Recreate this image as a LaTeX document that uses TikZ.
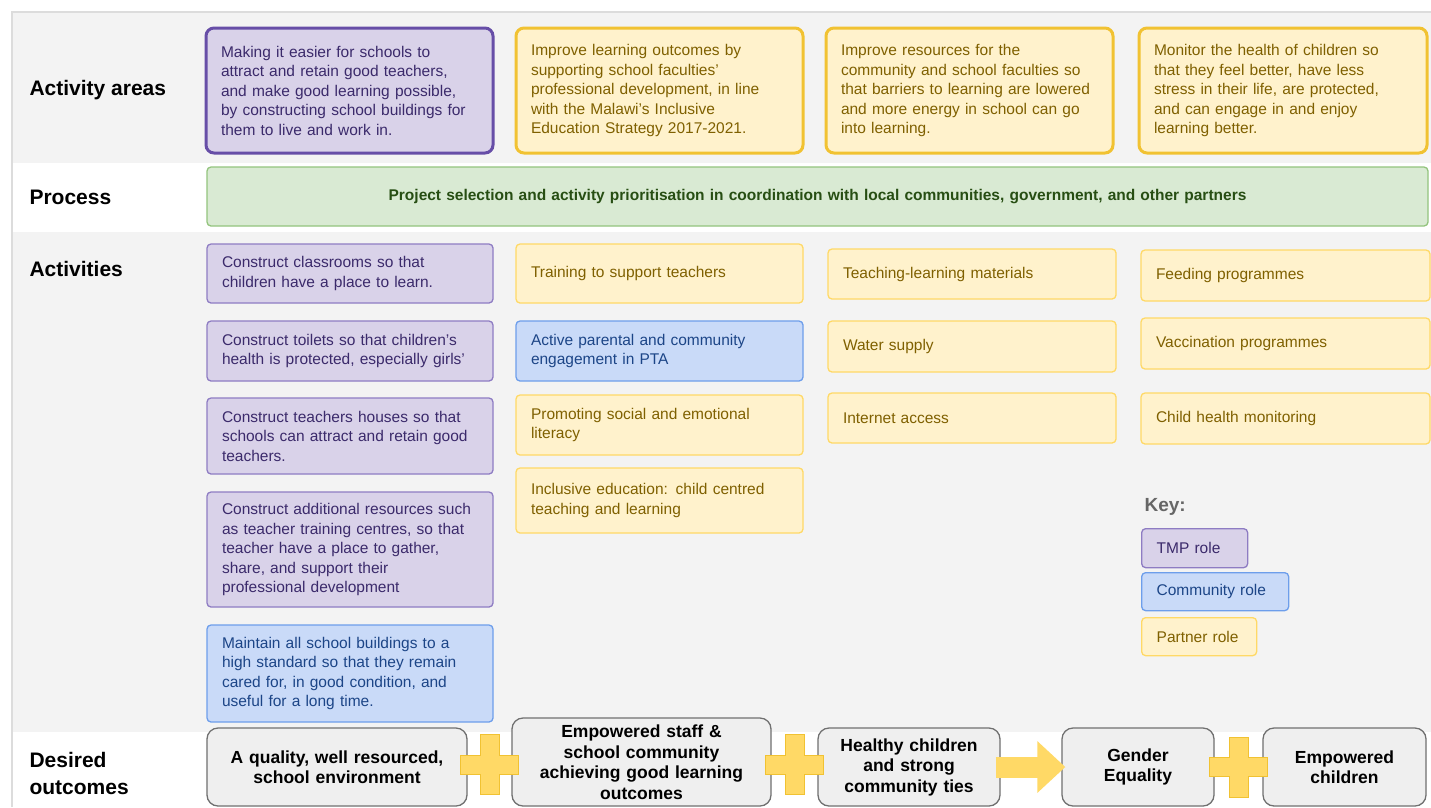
\documentclass[tikz,border=0pt]{standalone}
\usepackage{fontspec}
\setmainfont{Liberation Sans}
\usepackage{tikz}
\usetikzlibrary{calc,arrows.meta}
\usepackage{xcolor}
\definecolor{panelGray}{HTML}{F3F3F3}
\definecolor{frameGray}{HTML}{DCDCDC}
\definecolor{tmpFill}{HTML}{D9D2E9}
\definecolor{tmpLine}{HTML}{8E7CC3}
\definecolor{tmpDark}{HTML}{674EA7}
\definecolor{tmpText}{HTML}{3B2A6B}
\definecolor{comFill}{HTML}{C9DAF8}
\definecolor{comLine}{HTML}{6D9EEB}
\definecolor{comText}{HTML}{1C4587}
\definecolor{partFill}{HTML}{FFF2CC}
\definecolor{partLine}{HTML}{FFD966}
\definecolor{partDark}{HTML}{F1C232}
\definecolor{partText}{HTML}{7F6000}
\definecolor{procFill}{HTML}{D9EAD3}
\definecolor{procLine}{HTML}{93C47D}
\definecolor{procText}{HTML}{274E13}
\definecolor{outFill}{HTML}{EFEFEF}
\definecolor{outLine}{HTML}{707070}
\definecolor{plusFill}{HTML}{FFD966}
\definecolor{plusLine}{HTML}{F1C232}

\tikzset{
  cellbox/.style={rounded corners=4pt, inner xsep=15pt, inner ysep=0pt, align=left,
    line width=1.3pt, font=\fontsize{15.5}{19.5}\selectfont},
  tmpbox/.style={cellbox, fill=tmpFill, draw=tmpLine, text=tmpText},
  combox/.style={cellbox, fill=comFill, draw=comLine, text=comText},
  partbox/.style={cellbox, fill=partFill, draw=partLine, text=partText},
  areabox/.style={line width=3pt, rounded corners=8pt},
  sz/.style 2 args={text width=#1, minimum height=#2},
  rowlabel/.style={anchor=west, align=left, font=\fontsize{21}{27}\selectfont\bfseries},
  outbox/.style={rounded corners=11pt, fill=outFill, draw=outLine, line width=1.3pt,
    inner xsep=10pt, inner ysep=0pt, align=center, font=\fontsize{17.5}{20.5}\selectfont\bfseries},
  bigarrow/.style={draw=plusFill, line width=21pt, -{Triangle[length=28pt,width=50pt]}},
  plussign/.pic={
    \filldraw[fill=plusFill, draw=plusLine, line width=1pt]
      (-9.5,-30) -- (9.5,-30) -- (9.5,-9.5) -- (29,-9.5) -- (29,9.5) -- (9.5,9.5)
      -- (9.5,30) -- (-9.5,30) -- (-9.5,9.5) -- (-29,9.5) -- (-29,-9.5) -- (-9.5,-9.5) -- cycle;
  }
}

\begin{document}
\begin{tikzpicture}[x=1pt,y=-1pt]
    \useasboundingbox (0,0) rectangle (1431,807);
    \fill[white] (0,0) rectangle (1431,807);
    \fill[panelGray] (12,12) rectangle (1431,163);
    \fill[panelGray] (12,232) rectangle (1431,732);
    \draw[frameGray, line width=1.5pt] (12,807) -- (12,12) -- (1431,12);

    \node[rowlabel] (lblAreas) at (26,90) {Activity areas};
    \node[rowlabel] (lblProcess) at (26,197) {Process};
    \node[rowlabel] (lblActs) at (26,269) {Activities};
    \node[rowlabel] (lblOutcomes) at (26,773) {Desired\\outcomes};

    \node[tmpbox, areabox, draw=tmpDark, sz={257pt}{125pt}] (area1) at (349.5,90.5)
        {Making it easier for schools to\\attract and retain good teachers,\\and make good learning possible,\\by constructing school buildings for\\them to live and work in.};
    \node[partbox, areabox, draw=partDark, sz={257pt}{125pt}] (area2) at (659.5,90.5)
        {Improve learning outcomes by\\supporting school faculties'\\professional development, in line\\with the Malawi's Inclusive\\Education Strategy 2017-2021.};
    \node[partbox, areabox, draw=partDark, sz={257pt}{125pt}] (area3) at (969.5,90.5)
        {Improve resources for the\\community and school faculties so\\that barriers to learning are lowered\\and more energy in school can go\\into learning.};
    \node[partbox, areabox, draw=partDark, sz={258pt}{125pt}] (area4) at (1283,90.5)
        {Monitor the health of children so\\that they feel better, have less\\stress in their life, are protected,\\and can engage in and enjoy\\learning better.};

    \node[cellbox, fill=procFill, draw=procLine, text=procText, align=center, sz={1191pt}{59pt},
        font=\fontsize{15.5}{19}\selectfont\bfseries] (process) at (817.5,196.5)
        {Project selection and activity prioritisation in coordination with local communities, government, and other partners};

    \node[tmpbox, sz={256pt}{59pt}] (build1) at (350,273.5) {Construct classrooms so that\\children have a place to learn.};
    \node[tmpbox, sz={256pt}{60pt}] (build2) at (350,351) {Construct toilets so that children's\\health is protected, especially girls'};
    \node[tmpbox, sz={256pt}{76pt}] (build3) at (350,436) {Construct teachers houses so that\\schools can attract and retain good\\teachers.};
    \node[tmpbox, sz={256pt}{115pt}] (build4) at (350,549.5) {Construct additional resources such\\as teacher training centres, so that\\teacher have a place to gather,\\share, and support their\\professional development};
    \node[combox, sz={256pt}{97pt}] (build5) at (350,673.5) {Maintain all school buildings to a\\high standard so that they remain\\cared for, in good condition, and\\useful for a long time.};

    \node[partbox, sz={257pt}{59pt}] (teach1) at (659.5,273.5) {Training to support teachers};
    \node[combox, sz={257pt}{60pt}] (teach2) at (659.5,351) {Active parental and community\\engagement in PTA};
    \node[partbox, sz={257pt}{60pt}] (teach3) at (659.5,425) {Promoting social and emotional\\literacy};
    \node[partbox, sz={257pt}{65pt}] (teach4) at (659.5,500.5) {Inclusive education: child centred\\teaching and learning};

    \node[partbox, sz={258pt}{50pt}] (res1) at (972,274) {Teaching-learning materials};
    \node[partbox, sz={258pt}{51pt}] (res2) at (972,346.5) {Water supply};
    \node[partbox, sz={258pt}{50pt}] (res3) at (972,418) {Internet access};

    \node[partbox, sz={259pt}{51pt}] (health1) at (1285.5,275.5) {Feeding programmes};
    \node[partbox, sz={259pt}{51pt}] (health2) at (1285.5,343.5) {Vaccination programmes};
    \node[partbox, sz={259pt}{51pt}] (health3) at (1285.5,418.5) {Child health monitoring};

    \node[anchor=west, text=black!60, font=\fontsize{19}{23}\selectfont\bfseries] (keyTitle) at (1141,507) {Key:};
    \node[tmpbox, anchor=north west, sz={76pt}{39pt}] (keyTmp) at (1141,528) {TMP role};
    \node[combox, anchor=north west, sz={117pt}{38pt}] (keyCom) at (1141,572) {Community role};
    \node[partbox, anchor=north west, sz={85pt}{38pt}] (keyPart) at (1141,617) {Partner role};

    \node[outbox, sz={240pt}{78pt}] (outEnv) at (337,767) {A quality, well resourced,\\school environment};
    \node[outbox, sz={239pt}{88pt}] (outStaff) at (641.5,762) {Empowered staff \&\\school community\\achieving good learning\\outcomes};
    \node[outbox, sz={162pt}{78pt}] (outHealth) at (909,767) {Healthy children\\and strong\\community ties};
    \node[outbox, sz={132pt}{78pt}] (outGender) at (1138,767) {Gender\\Equality};
    \node[outbox, sz={143pt}{78pt}] (outChild) at (1344.5,767) {Empowered\\children};

    \pic at ($(outEnv.east)!0.5!(outStaff.west)$) {plussign};
    \pic at ($(outStaff.east)!0.5!(outHealth.west)$) {plussign};
    \draw[bigarrow] ([xshift=-5pt]outHealth.east) -- ([xshift=4pt]outGender.west);
    \pic at ($(outGender.east)!0.5!(outChild.west)$) {plussign};
\end{tikzpicture}
\end{document}
